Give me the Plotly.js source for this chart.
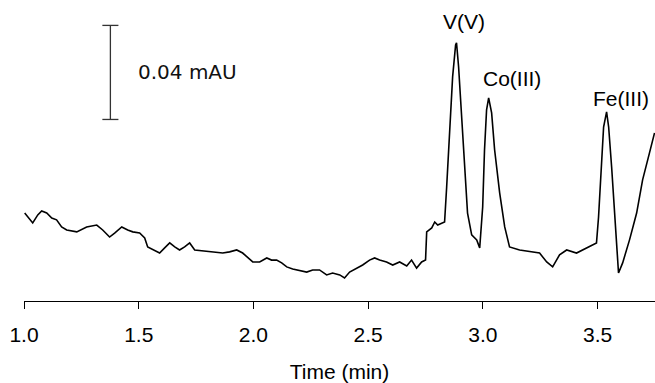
<!DOCTYPE html>
<html>
<head>
<meta charset="utf-8">
<script src="https://cdn.plot.ly/plotly-3.0.1.min.js"></script>
<style>
html,body{margin:0;padding:0;background:#fff;}
#chart{width:655px;height:383px;}
</style>
</head>
<body>
<div id="chart"></div>
<script>
// Retention time (min)
const timeMin = [
  1.003,1.038,1.060,1.077,1.099,1.121,1.142,1.164,1.186,1.230,
  1.273,1.317,1.343,1.373,1.395,1.426,1.452,1.474,1.504,1.526,
  1.539,1.569,1.591,1.613,1.635,1.657,1.678,1.700,1.722,1.744,
  1.779,1.822,1.866,1.896,1.927,1.953,1.975,1.997,2.027,2.058,
  2.079,2.101,2.123,2.145,2.171,2.201,2.232,2.258,2.288,2.319,
  2.345,2.376,2.397,2.419,2.450,2.476,2.506,2.528,2.550,2.580,
  2.607,2.637,2.668,2.689,2.711,2.733,2.750,2.755,2.777,2.790,
  2.803,2.833,2.842,2.855,2.868,2.881,2.885,2.894,2.907,2.920,
  2.933,2.951,2.973,2.986,2.999,3.007,3.016,3.025,3.038,3.051,
  3.073,3.095,3.116,3.160,3.217,3.247,3.278,3.304,3.334,3.365,
  3.408,3.452,3.495,3.504,3.517,3.526,3.539,3.548,3.561,3.574,
  3.583,3.591,3.609,3.639,3.670,3.696,3.726,3.748
];
// Absorbance (mAU)
const absorbance = [
  0.0374,0.0332,0.0366,0.0383,0.0374,0.0353,0.0345,0.0315,0.0302,0.0294,
  0.0315,0.0323,0.0302,0.0272,0.0289,0.0315,0.0302,0.0294,0.0289,0.0268,
  0.0230,0.0217,0.0204,0.0226,0.0247,0.0230,0.0217,0.0230,0.0247,0.0217,
  0.0213,0.0209,0.0204,0.0209,0.0217,0.0204,0.0187,0.0166,0.0166,0.0183,
  0.0174,0.0174,0.0162,0.0145,0.0136,0.0128,0.0123,0.0132,0.0132,0.0111,
  0.0119,0.0111,0.0098,0.0123,0.0140,0.0153,0.0174,0.0183,0.0174,0.0166,
  0.0153,0.0166,0.0149,0.0174,0.0140,0.0166,0.0174,0.0294,0.0311,0.0336,
  0.0323,0.0336,0.0485,0.0715,0.0953,0.1089,0.1098,0.0996,0.0783,0.0545,
  0.0374,0.0281,0.0260,0.0226,0.0400,0.0643,0.0813,0.0864,0.0800,0.0643,
  0.0460,0.0315,0.0230,0.0217,0.0209,0.0204,0.0166,0.0145,0.0196,0.0217,
  0.0204,0.0226,0.0247,0.0357,0.0570,0.0740,0.0804,0.0740,0.0570,0.0357,
  0.0204,0.0119,0.0162,0.0260,0.0374,0.0515,0.0630,0.0715
];
const tickValues = [1.0, 1.5, 2.0, 2.5, 3.0, 3.5];
const tickLabels = ["1.0", "1.5", "2.0", "2.5", "3.0", "3.5"];
const peakLabels = ["V(V)", "Co(III)", "Fe(III)"];
const scaleBarValue = 0.04;
const scaleBarLabel = "0.04 mAU";

const labelFont = {family: "Liberation Sans, Arial, sans-serif", size: 21, color: "#000"};

const trace = {
  x: timeMin, y: absorbance, type: "scatter", mode: "lines",
  line: {color: "#000", width: 1.6}, hoverinfo: "skip"
};

const barX = 1.3765, barTop = 0.1172, capHalf = 0.035;
const layout = {
  width: 655, height: 383,
  margin: {l: 24, r: 0, t: 0, b: 82},
  paper_bgcolor: "#fff", plot_bgcolor: "#fff",
  showlegend: false,
  xaxis: {
    range: [1.0, 3.75], tickvals: tickValues, ticktext: tickLabels,
    ticks: "outside", ticklen: 7, tickwidth: 1, tickcolor: "#000",
    ticklabelstandoff: 8,
    showline: true, linecolor: "#000", linewidth: 1.2,
    showgrid: false, zeroline: false,
    tickfont: labelFont,
    title: {text: "Time (min)", font: labelFont, standoff: 20}
  },
  yaxis: {range: [0, 0.128], visible: false, fixedrange: true},
  shapes: [
    {type: "line", xref: "x", yref: "y", x0: barX, x1: barX, y0: barTop - scaleBarValue, y1: barTop, line: {color: "#333", width: 1.3}},
    {type: "line", xref: "x", yref: "y", x0: barX - capHalf, x1: barX + capHalf, y0: barTop, y1: barTop, line: {color: "#333", width: 1.3}},
    {type: "line", xref: "x", yref: "y", x0: barX - capHalf, x1: barX + capHalf, y0: barTop - scaleBarValue, y1: barTop - scaleBarValue, line: {color: "#333", width: 1.3}}
  ],
  annotations: [
    {x: 1.49, y: barTop - scaleBarValue / 2, xref: "x", yref: "y", text: scaleBarLabel, showarrow: false, xanchor: "left", yanchor: "middle", font: {family: "DejaVu Sans, Verdana, sans-serif", size: 20, color: "#111"}},
    {x: 2.918, y: 0.1187, xref: "x", yref: "y", text: peakLabels[0], showarrow: false, xanchor: "center", yanchor: "middle", font: labelFont},
    {x: 3.127, y: 0.0945, xref: "x", yref: "y", text: peakLabels[1], showarrow: false, xanchor: "center", yanchor: "middle", font: labelFont},
    {x: 3.600, y: 0.0860, xref: "x", yref: "y", text: peakLabels[2], showarrow: false, xanchor: "center", yanchor: "middle", font: labelFont}
  ]
};

Plotly.newPlot("chart", [trace], layout, {staticPlot: true, displayModeBar: false});
</script>
</body>
</html>
